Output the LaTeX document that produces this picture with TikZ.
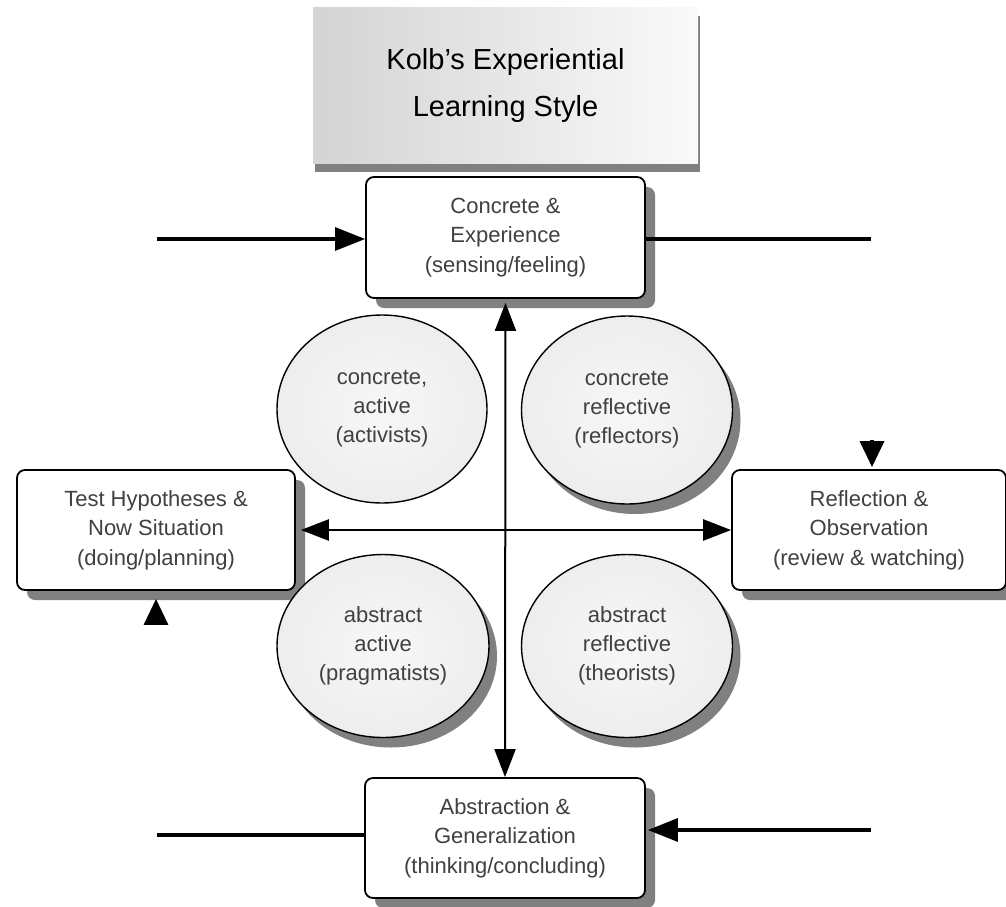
\documentclass[tikz,border=0pt]{standalone}
\usepackage{fontspec}
\setmainfont{Liberation Sans}
\usetikzlibrary{arrows.meta,shadows,shapes.geometric}
\pgfdeclareradialshading{ellshade}{\pgfpoint{0bp}{0bp}}{%
  color(0bp)=(black!3); color(25bp)=(black!7); color(40bp)=(black!13); color(50bp)=(black!24)}
\tikzset{
  stepbox/.style={draw=black, line width=1.8pt, rounded corners=8pt, fill=white,
    align=center, text=black!75, inner sep=0pt,
    font=\fontsize{22}{29.5}\selectfont,
    drop shadow={shadow xshift=10pt, shadow yshift=-10pt, fill=black!50, opacity=1}},
  styleell/.style={ellipse, draw=black, line width=1.4pt, inner sep=0pt,
    shading=ellshade,
    align=center, text=black!75, font=\fontsize{22}{29}\selectfont},
  ellshadow/.style={drop shadow={shadow xshift=8pt, shadow yshift=-10pt, fill=black!50, opacity=1}},
  titlebox/.style={draw=none, left color=black!17, right color=black!2,
    align=center, text=black, inner sep=0pt,
    font=\fontsize{29}{47}\selectfont,
    drop shadow={shadow xshift=2pt, shadow yshift=-9pt, fill=black!50, opacity=1}},
  bigtip/.style={-{Triangle[length=30pt,width=23pt]}},
  dbltip/.style={{Triangle[length=28pt,width=21pt]}-{Triangle[length=28pt,width=21pt]}},
  smalltip/.style={-{Triangle[length=26pt,width=24pt]}},
  conn/.style={line width=3.2pt, black},
}
\begin{document}
\begin{tikzpicture}[x=1pt, y=-1pt]
\useasboundingbox (0,0) rectangle (1006,906);

% title
\node[titlebox, minimum width=385pt, minimum height=156pt] (title) at (505.5,85)
  {Kolb's Experiential\\Learning Style};

% boxes
\node[stepbox, minimum width=279pt, minimum height=121pt] (ce) at (505.5,237.5)
  {Concrete \&\\Experience\\(sensing/feeling)};
\node[stepbox, minimum width=278pt, minimum height=120pt] (th) at (156,530)
  {Test Hypotheses \&\\Now Situation\\(doing/planning)};
\node[stepbox, minimum width=274pt, minimum height=120pt] (ro) at (869,530)
  {Reflection \&\\Observation\\(review \& watching)};
\node[stepbox, minimum width=280pt, minimum height=120pt] (ag) at (505,838)
  {Abstraction \&\\Generalization\\(thinking/concluding)};

% ellipses
\node[styleell, minimum width=210pt, minimum height=188pt] (ca) at (382,409)
  {concrete,\\active\\(activists)};
\node[styleell, ellshadow, minimum width=211pt, minimum height=188pt] (cr) at (627,410)
  {concrete\\reflective\\(reflectors)};
\node[styleell, ellshadow, minimum width=212pt, minimum height=183pt] (aa) at (383,646)
  {abstract\\active\\(pragmatists)};
\node[styleell, ellshadow, minimum width=211pt, minimum height=183pt] (ar) at (627,646)
  {abstract\\reflective\\(theorists)};

% free ends
\coordinate (tl) at (157,239);
\coordinate (tr) at (871,239);
\coordinate (bl) at (157,835);
\coordinate (br) at (871,830);
\coordinate (ua) at (156,622);
\coordinate (da) at (872,440);

% connectors
\draw[conn, bigtip] (tl) -- (tl -| ce.west);
\draw[conn] (tr -| ce.east) -- (tr);
\draw[conn] (bl) -- (bl -| ag.west);
\draw[conn, bigtip] (br) -- ([xshift=2pt]br -| ag.east);
\draw[line width=2pt, dbltip] ([yshift=-4pt]ce.south) -- (ag.north);
\draw[line width=2.6pt, dbltip] ([xshift=5pt]th.east) -- (ro.west);
\draw[conn, smalltip] (ua) -- ([yshift=-8pt]ua |- th.south);
\draw[conn, smalltip] (da) -- ([yshift=2pt]da |- ro.north);
\end{tikzpicture}
\end{document}
